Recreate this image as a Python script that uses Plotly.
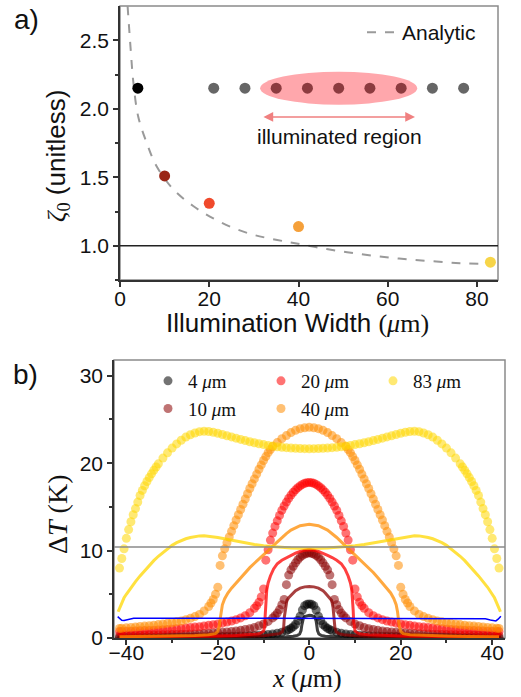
import plotly.graph_objects as go

# ---------------- panel a: zeta_0 versus illumination width ----------------
widths_um = [4, 10, 20, 40, 83]
zeta0 = [2.15, 1.51, 1.31, 1.14, 0.88]
point_colors = ["#000000", "#9A2616", "#F04A2C", "#F5A03A", "#F7D548"]

analytic_w = [1.7, 2.4, 3.0, 4.1, 6.0, 8.2, 12.0, 16.4, 20.9, 25.4, 29.9, 34.0,
              38.9, 46.3, 53.8, 61.3, 68.8, 76.2, 83.0]
analytic_z = [2.75, 2.43, 2.19, 1.94, 1.75, 1.58, 1.41, 1.29, 1.20, 1.13, 1.08, 1.05,
              1.02, 0.976, 0.94, 0.91, 0.89, 0.873, 0.866]

unity_level = 1.0

# schematic strip of particles, some inside the illuminated spot
strip_x = [21, 28, 35, 42, 49, 56, 63, 70, 77]
strip_lit = [False, False, True, True, True, True, True, False, False]
strip_level = 2.15
spot_x = (31.4, 66.6)
spot_halfheight = 0.12
arrow_x = (31.8, 66.1)
arrow_level = 1.94
region_label_pos = (49.1, 1.80)

# ---------------- panel b: temperature rise profiles ----------------
# half profiles (x >= 0); the profiles are symmetric about x = 0
x83 = [0, 1, 2, 3, 4, 5, 6, 7, 8, 9, 10, 11, 12, 13, 14, 15, 16, 17, 18, 19, 20, 21, 22, 23,
       24, 25, 26, 27, 28, 29, 30, 31, 32, 33, 33.5, 34, 34.5, 35, 35.5, 36, 36.5, 37,
       37.5, 38, 38.5, 39, 39.5, 40, 40.5, 41, 41.5]
y83 = [21.65, 21.66, 21.68, 21.70, 21.73, 21.77, 21.82, 21.88, 21.95, 22.03, 22.12, 22.22,
       22.33, 22.45, 22.58, 22.72, 22.86, 23.00, 23.14, 23.28, 23.42, 23.54, 23.62, 23.65,
       23.60, 23.45, 23.25, 22.98, 22.62, 22.20, 21.72, 21.18, 20.58, 19.92, 19.56, 19.18,
       18.78, 18.35, 17.90, 17.42, 16.88, 16.30, 15.55, 14.80, 14.10, 13.30, 12.40, 11.40,
       10.20, 9.10, 8.00]

x40 = [0, 1, 2, 3, 4, 5, 6, 7, 8, 8.5, 9, 9.5, 10, 10.5, 11, 11.5, 12, 12.5, 13, 13.5, 14,
       14.5, 15, 15.5, 16, 16.5, 17, 17.5, 18, 18.5, 19, 19.5, 20, 20.5, 21, 21.5, 22, 23,
       24, 25, 26, 27, 28, 29, 30, 31, 32, 33, 34, 35, 36, 37, 38, 39, 40, 41, 41.5]
y40 = [24.1, 24.05, 23.95, 23.75, 23.5, 23.15, 22.8, 22.35, 21.9, 21.55, 21.2, 20.75, 20.3,
       19.8, 19.3, 18.75, 18.2, 17.65, 17.1, 16.5, 15.9, 15.3, 14.7, 14.1, 13.5, 12.85,
       12.2, 11.55, 10.9, 10.2, 9.4, 8.3, 5.8, 5.0, 4.4, 4.0, 3.6, 3.1, 2.7, 2.45, 2.25,
       2.1, 1.95, 1.85, 1.75, 1.68, 1.6, 1.53, 1.47, 1.41, 1.36, 1.31, 1.26, 1.21, 1.16,
       1.12, 1.1]

x20 = [0, 0.5, 1, 1.5, 2, 2.5, 3, 3.5, 4, 4.5, 5, 5.5, 6, 6.5, 7, 7.5, 8, 8.5, 9, 9.5,
       10, 10.5, 11, 11.5, 12, 13, 14, 15, 16, 17, 18, 19, 20, 21, 22, 23, 24, 25, 26, 27,
       28, 29, 30, 31, 32, 33, 34, 35, 36, 37, 38, 39, 40, 41, 41.5]
y20 = [17.8, 17.77, 17.7, 17.57, 17.4, 17.2, 16.95, 16.67, 16.35, 15.97, 15.55, 15.1, 14.6,
       14.02, 13.4, 12.75, 12.0, 11.2, 10.1, 8.9, 5.6, 4.7, 4.1, 3.7, 3.4, 2.9, 2.55, 2.3,
       2.1, 1.95, 1.82, 1.7, 1.6, 1.52, 1.45, 1.38, 1.3, 1.25, 1.2, 1.15, 1.1, 1.06, 1.02,
       0.98, 0.95, 0.92, 0.9, 0.87, 0.85, 0.82, 0.8, 0.78, 0.76, 0.74, 0.73]

x10 = [0, 0.5, 1, 1.5, 2, 2.5, 3, 3.5, 4, 4.5, 5, 5.5, 6, 6.5, 7, 7.5, 8, 9, 10, 11, 12,
       13, 14, 15, 16, 17, 18, 19, 20, 21, 22, 23, 24, 25, 26, 27, 28, 29, 30, 31, 32, 33,
       34, 35, 36, 37, 38, 39, 40, 41, 41.5]
y10 = [9.75, 9.7, 9.6, 9.45, 9.25, 8.95, 8.6, 8.2, 7.8, 7.2, 6.1, 4.4, 3.8, 3.25, 2.85,
       2.55, 2.3, 1.9, 1.6, 1.4, 1.2, 1.07, 0.97, 0.88, 0.8, 0.75, 0.7, 0.66, 0.62, 0.58,
       0.55, 0.52, 0.5, 0.47, 0.45, 0.43, 0.42, 0.4, 0.39, 0.37, 0.36, 0.35, 0.34, 0.33,
       0.32, 0.31, 0.3, 0.29, 0.28, 0.27, 0.27]

x4 = [0, 0.5, 1, 1.5, 2, 2.5, 3, 3.5, 4, 4.5, 5, 6, 7, 8, 9, 10, 11, 12, 13, 14, 15, 16,
      17, 18, 19, 20, 21, 22, 23, 24, 25, 26, 27, 28, 29, 30, 31, 32, 33, 34, 35, 36, 37,
      38, 39, 40, 41, 41.5]
y4 = [3.9, 3.85, 3.7, 3.2, 2.5, 2.0, 1.55, 1.3, 1.1, 0.95, 0.83, 0.66, 0.55, 0.47, 0.41,
      0.36, 0.32, 0.29, 0.26, 0.24, 0.22, 0.2, 0.19, 0.17, 0.16, 0.15, 0.14, 0.13, 0.12,
      0.12, 0.11, 0.1, 0.1, 0.09, 0.09, 0.08, 0.08, 0.08, 0.07, 0.07, 0.07, 0.06, 0.06,
      0.06, 0.06, 0.05, 0.05, 0.05]

# model curves (half profiles)
lx83 = [0, 2, 4, 6, 8, 10, 12, 14, 16, 18, 20, 22, 23, 24, 25, 26, 27, 28, 29, 30, 31, 32,
        33, 34, 35, 36, 37, 38, 39, 40, 40.5, 41, 41.5, 41.8]
ly83 = [10.25, 10.27, 10.3, 10.36, 10.45, 10.55, 10.7, 10.88, 11.08, 11.3, 11.5, 11.65,
        11.7, 11.68, 11.6, 11.5, 11.35, 11.15, 10.9, 10.6, 10.2, 9.8, 9.35, 8.85, 8.3, 7.7,
        7.1, 6.45, 5.8, 5.0, 4.6, 4.0, 3.4, 3.0]
lx40 = [0, 2, 4, 5, 6, 7, 8, 9, 10, 11, 12, 13, 14, 15, 16, 17, 17.8, 18.5, 19.0, 19.3,
        19.5, 19.7, 20.0, 20.5, 22, 25, 30, 35, 41.5]
ly40 = [13.0, 12.85, 12.35, 11.95, 11.5, 11.0, 10.5, 10.0, 9.5, 9.0, 8.55, 8.05, 7.5, 6.9,
        6.3, 5.7, 5.15, 4.5, 3.8, 3.0, 2.1, 1.3, 0.75, 0.5, 0.38, 0.3, 0.22, 0.17, 0.13]
lx20 = [0, 1, 2, 3, 4, 5, 6, 7, 7.8, 8.5, 9.0, 9.3, 9.5, 9.6, 9.7, 9.8, 10.0, 10.5, 11, 13,
        16, 20, 25, 30, 35, 41.5]
ly20 = [10.1, 10.05, 9.9, 9.7, 9.45, 9.2, 8.9, 8.5, 7.9, 7.1, 6.3, 5.5, 4.5, 3.2, 2.0, 1.2,
        0.8, 0.6, 0.48, 0.38, 0.3, 0.24, 0.19, 0.15, 0.13, 0.11]
lx10 = [0, 1, 2, 3, 3.5, 4, 4.5, 4.9, 5.2, 5.45, 5.6, 5.9, 6.5, 7.5, 10, 15, 20, 30, 41.5]
ly10 = [5.9, 5.85, 5.7, 5.4, 5.15, 4.85, 4.6, 4.3, 3.5, 2.4, 1.2, 0.7, 0.5, 0.38, 0.26,
        0.17, 0.12, 0.08, 0.06]
lx4 = [0, 0.5, 1, 1.3, 1.5, 1.65, 1.8, 2.1, 2.6, 3.5, 5, 8, 15, 41.5]
ly4 = [2.6, 2.57, 2.45, 2.25, 1.95, 1.4, 0.85, 0.45, 0.3, 0.2, 0.14, 0.09, 0.05, 0.02]

# blue reference trace (not symmetric, given in full)
blue_x = [-41.9, -41.5, -41.0, -40.5, -40.0, -39.3, -38.4, -36, -33, -30, -25, -20, -15,
          -10, -5, 0, 5, 10, 15, 20, 25, 30, 33, 35, 37.4, 38.5, 39.6, 40.3, 40.8, 41.3, 41.9]
blue_y = [2.45, 2.2, 2.02, 2.0, 2.07, 2.18, 2.25, 2.27, 2.28, 2.27, 2.28, 2.28, 2.27, 2.27,
          2.27, 2.27, 2.27, 2.27, 2.28, 2.27, 2.27, 2.26, 2.26, 2.25, 2.24, 2.2, 2.06, 1.98,
          1.96, 2.15, 2.5]

threshold_level = 10.4

series_colors = {4: "#000000", 10: "#8B0000", 20: "#FF0000", 40: "#FF8C00", 83: "#FFD700"}
# legend columns: (4, 10) | (20, 40) | (83)
legend_column = {4: "legend2", 10: "legend2", 20: "legend3", 40: "legend3", 83: "legend4"}

SANS = "Liberation Sans"
SERIF = "Liberation Serif"
W, H = 521, 697


def mirror(xh, yh):
    """Reflect a half profile (x >= 0) to the full symmetric profile."""
    xs = [-v for v in xh[:0:-1]] + list(xh)
    ys = list(yh[:0:-1]) + list(yh)
    return xs, ys


def px(x):
    return x / W


def py(y):
    return 1 - y / H


fig = go.Figure()

# ---- panel a traces ----
fig.add_trace(go.Scatter(
    x=analytic_w, y=analytic_z, mode="lines", name="Analytic",
    line=dict(color="#9A9A9A", width=2, dash="dash", shape="spline"),
    xaxis="x", yaxis="y", legend="legend", showlegend=True))

fig.add_trace(go.Scatter(
    x=strip_x, y=[strip_level] * len(strip_x), mode="markers",
    marker=dict(size=11, color=["#8C3B3F" if lit else "#666666" for lit in strip_lit]),
    xaxis="x", yaxis="y", showlegend=False, hoverinfo="skip"))

fig.add_trace(go.Scatter(
    x=widths_um, y=zeta0, mode="markers",
    marker=dict(size=11, color=point_colors),
    xaxis="x", yaxis="y", showlegend=False))

# ---- panel b traces: simulated points ----
marker_sets = {4: (x4, y4), 10: (x10, y10), 20: (x20, y20), 40: (x40, y40), 83: (x83, y83)}
for w in widths_um:
    xs, ys = mirror(*marker_sets[w])
    fig.add_trace(go.Scatter(
        x=xs, y=ys, mode="markers", name=f"{w} <i>μ</i>m",
        marker=dict(size=9, color=series_colors[w], opacity=0.55, line=dict(width=0)),
        xaxis="x2", yaxis="y2", legend=legend_column[w]))

# ---- panel b traces: model curves ----
line_sets = {4: (lx4, ly4), 10: (lx10, ly10), 20: (lx20, ly20), 40: (lx40, ly40), 83: (lx83, ly83)}
for w in widths_um:
    xs, ys = mirror(*line_sets[w])
    fig.add_trace(go.Scatter(
        x=xs, y=ys, mode="lines", opacity=0.75,
        line=dict(color=series_colors[w], width=3),
        xaxis="x2", yaxis="y2", showlegend=False))

fig.add_trace(go.Scatter(
    x=blue_x, y=blue_y, mode="lines", line=dict(color="#0000FF", width=1.5),
    xaxis="x2", yaxis="y2", showlegend=False))

# ---- shapes ----
shapes = [
    dict(type="rect", xref="x domain", yref="y domain", x0=0, x1=1, y0=0, y1=1,
         line=dict(color="#8A8A8A", width=1.5), layer="below"),
    dict(type="rect", xref="x2 domain", yref="y2 domain", x0=0, x1=1, y0=0, y1=1,
         line=dict(color="#8A8A8A", width=1.5), layer="below"),
    dict(type="circle", xref="x", yref="y", x0=spot_x[0], x1=spot_x[1],
         y0=strip_level - spot_halfheight, y1=strip_level + spot_halfheight,
         fillcolor="rgba(255,80,90,0.5)", line=dict(width=0), layer="below"),
    dict(type="line", xref="x domain", yref="y", x0=0, x1=1, y0=unity_level, y1=unity_level,
         line=dict(color="#222222", width=1.5)),
    dict(type="line", xref="x2 domain", yref="y2", x0=0, x1=1,
         y0=threshold_level, y1=threshold_level, line=dict(color="#8A8A8A", width=1.5)),
]


def label(x, y, text, size, family=SANS, angle=0):
    return dict(x=px(x), y=py(y), xref="paper", yref="paper", text=text, showarrow=False,
                xanchor="center", yanchor="middle", textangle=angle,
                font=dict(family=family, size=size, color="#111"))


annotations = [
    dict(x=arrow_x[1], y=arrow_level, ax=arrow_x[0], ay=arrow_level, xref="x", yref="y",
         axref="x", ayref="y", text="", showarrow=True, arrowside="end+start",
         arrowhead=2, arrowsize=1.3, arrowwidth=1.5, arrowcolor="#F08080"),
    dict(x=region_label_pos[0], y=region_label_pos[1], xref="x", yref="y",
         xanchor="center", yanchor="middle",
         text="illuminated region", showarrow=False, font=dict(family=SANS, size=21, color="#111")),
    label(26, 20, "a)", 28),
    label(25, 374, "b)", 28),
    label(57, 156, f'<span style="font-family:{SERIF}"><i>ζ</i><sub>0</sub></span> (unitless)',
          26, angle=-90),
    label(297, 323, f'Illumination Width <span style="font-family:{SERIF}">(<i>μ</i>m)</span>', 26),
    label(57, 515, "Δ<i>T</i> (K)", 28, family=SERIF, angle=-90),
    label(307, 678, "<i>x</i> (<i>μ</i>m)", 26, family=SERIF),
]

axis_common = dict(showgrid=False, zeroline=False, showline=True, linecolor="#333333",
                   linewidth=1.5, ticks="outside", ticklen=5, tickwidth=1.5,
                   tickcolor="#333333", automargin=False,
                   tickfont=dict(family=SANS, size=21, color="#111"))

legend_common = dict(xanchor="left", yanchor="top", orientation="v", bgcolor="rgba(0,0,0,0)",
                     font=dict(family=SERIF, size=19, color="#111"), tracegroupgap=0)

fig.update_layout(
    width=W, height=H, margin=dict(l=0, r=0, t=0, b=0),
    paper_bgcolor="white", plot_bgcolor="white",
    xaxis=dict(domain=[px(120), px(498)], range=[0, 84.7], tickvals=[0, 20, 40, 60, 80],
               anchor="y", ticklabelstandoff=-6, **axis_common),
    yaxis=dict(domain=[py(280), py(6)], range=[0.75, 2.75],
               tickvals=[1.0, 1.5, 2.0, 2.5], tickformat=".1f", anchor="x",
               minor=dict(tickvals=[0.75, 1.25, 1.75, 2.25], ticks="outside", ticklen=3,
                          tickcolor="#333333"),
               **axis_common),
    xaxis2=dict(domain=[px(114), px(505)], range=[-42.7, 42.8], tickvals=[-40, -20, 0, 20, 40],
                anchor="y2", ticklabelstandoff=-10,
                minor=dict(tickvals=[-30, -10, 10, 30], ticks="outside", ticklen=3,
                           tickcolor="#333333"),
                **axis_common),
    yaxis2=dict(domain=[py(638), py(360)], range=[0, 31.8], tickvals=[0, 10, 20, 30],
                anchor="x2",
                minor=dict(tickvals=[5, 15, 25], ticks="outside", ticklen=3, tickcolor="#333333"),
                **axis_common),
    legend=dict(x=px(362), xanchor="left", y=py(12), yanchor="top",
                bgcolor="rgba(0,0,0,0)", font=dict(family=SANS, size=21, color="#111")),
    legend2=dict(x=px(148), y=py(362), **legend_common),
    legend3=dict(x=px(261), y=py(362), **legend_common),
    legend4=dict(x=px(373), y=py(362), **legend_common),
    shapes=shapes, annotations=annotations,
)

fig.write_html("out.html")
